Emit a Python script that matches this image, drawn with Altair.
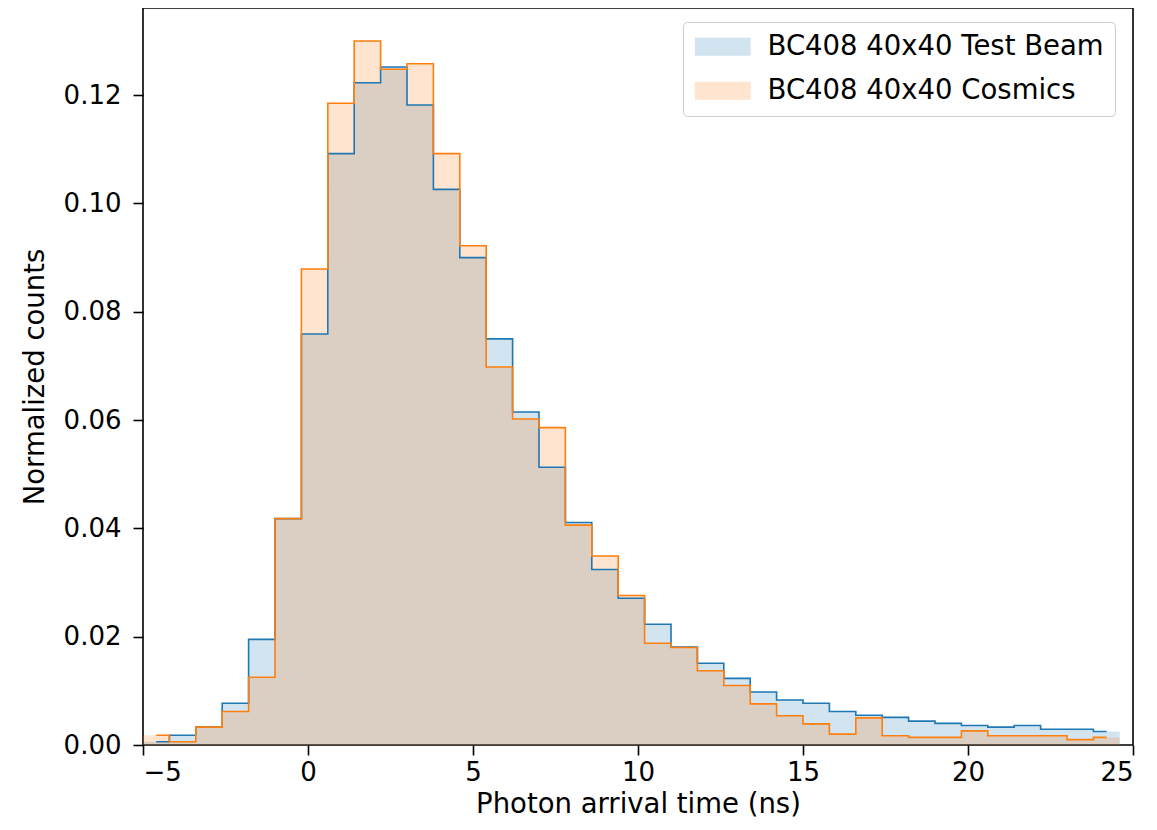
import altair as alt
import pandas as pd

# ---- data ----
BIN_START = -5.0
BIN_WIDTH = 0.8
SERIES = ["BC408 40x40 Test Beam", "BC408 40x40 Cosmics"]
COLORS = ["#1f77b4", "#ff7f0e"]

test_beam = [0.0006, 0.0018, 0.0033, 0.0077, 0.0195, 0.0418, 0.0759, 0.1092,
             0.1223, 0.1252, 0.1182, 0.1026, 0.0900, 0.0750, 0.0615, 0.0513,
             0.0411, 0.0324, 0.0271, 0.0223, 0.0181, 0.0151, 0.0123, 0.0098,
             0.0083, 0.0077, 0.0062, 0.0055, 0.0051, 0.0044, 0.0040, 0.0036,
             0.0033, 0.0036, 0.0029, 0.0029, 0.0025]
cosmics = [0.0018, 0.0006, 0.0033, 0.0062, 0.0125, 0.0418, 0.0879, 0.1185,
           0.1300, 0.1248, 0.1258, 0.1092, 0.0922, 0.0698, 0.0602, 0.0586,
           0.0406, 0.0349, 0.0276, 0.0188, 0.0180, 0.0137, 0.0110, 0.0076,
           0.0054, 0.0039, 0.0020, 0.0050, 0.0017, 0.0014, 0.0014, 0.0026,
           0.0017, 0.0017, 0.0017, 0.0010, 0.0014]

X_TICKS = [-5, 0, 5, 10, 15, 20, 25]
Y_TICKS = [0.0, 0.02, 0.04, 0.06, 0.08, 0.10, 0.12]
X_TITLE = "Photon arrival time (ns)"
Y_TITLE = "Normalized counts"

FONT = "DejaVu Sans"

# ---- tables ----
area_rows, line_rows = [], []
for name, vals in zip(SERIES, [test_beam, cosmics]):
    for i, v in enumerate(vals):
        area_rows.append({"series": name, "x": BIN_START + i * BIN_WIDTH, "y": v})
        line_rows.append({"series": name, "x": BIN_START + (i + 0.5) * BIN_WIDTH, "y": v})
    area_rows.append({"series": name, "x": BIN_START + len(vals) * BIN_WIDTH, "y": vals[-1]})
area_df = pd.DataFrame(area_rows)
line_df = pd.DataFrame(line_rows)

xscale = alt.Scale(domain=[-5, 25], nice=False, zero=False)
yscale = alt.Scale(domain=[0, 0.1361], nice=False, zero=True)
color_scale = alt.Scale(domain=SERIES, range=COLORS)

xenc = alt.X("x:Q", scale=xscale, title=X_TITLE,
             axis=alt.Axis(values=X_TICKS, format="d"))
yenc = alt.Y("y:Q", scale=yscale, title=Y_TITLE, stack=None,
             axis=alt.Axis(values=Y_TICKS, format=".2f"))

legend = alt.Legend(
    title=None, orient="none", legendX=540, legendY=14,
    symbolType="M-3.1,-1L3.1,-1L3.1,1L-3.1,1Z", symbolSize=324,
    symbolOpacity=0.2, symbolStrokeWidth=0, symbolOffset=15,
    labelOffset=31, labelFontSize=27.5, labelFont=FONT, labelColor="black",
    labelLimit=0,
    rowPadding=15, padding=11, cornerRadius=4,
    strokeColor="#cccccc", fillColor="white",
)

layers = []
for k, name in enumerate(SERIES):
    layers.append(
        alt.Chart(area_df).transform_filter(alt.datum.series == name)
        .mark_area(interpolate="step-after", opacity=0.2)
        .encode(x=xenc, y=yenc,
                fill=alt.Fill("series:N", scale=color_scale,
                              legend=legend if k == 0 else None))
    )
for name in SERIES:
    layers.append(
        alt.Chart(line_df).transform_filter(alt.datum.series == name)
        .mark_line(interpolate="step", strokeWidth=1.6)
        .encode(x=xenc, y=yenc,
                stroke=alt.Stroke("series:N", scale=color_scale, legend=None))
    )

chart = alt.layer(*layers).properties(
    width=990, height=737,
    autosize=alt.AutoSizeParams(type="none"),
    padding={"left": 135, "top": 0, "right": 16, "bottom": 76},
).configure_view(
    stroke="black", strokeWidth=1.6
).configure_axis(
    grid=False, domain=False,
    tickColor="black", tickWidth=1.6, tickSize=10,
    labelFont=FONT, labelFontSize=26, labelColor="black",
    titleFont=FONT, titleFontSize=27.5, titleColor="black", titleFontWeight="normal",
).configure_axisX(
    labelPadding=4, titlePadding=5,
).configure_axisY(
    labelPadding=12, titlePadding=14,
)

chart.save("out.html", embed_options={"renderer": "svg", "actions": False})
